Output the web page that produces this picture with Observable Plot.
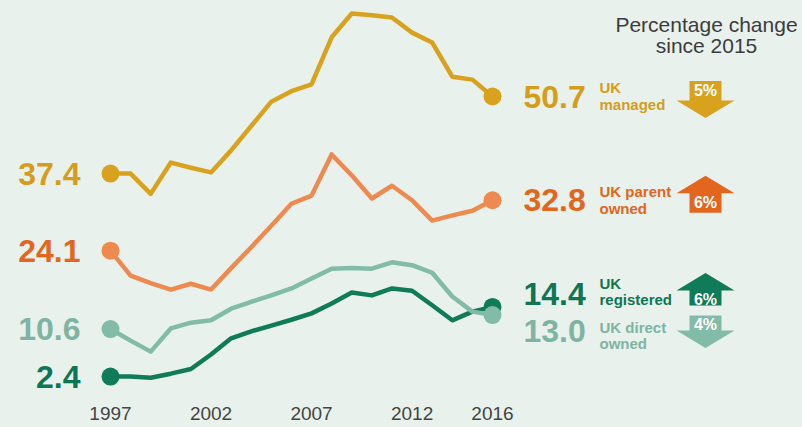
<!DOCTYPE html>
<html><head><meta charset="utf-8">
<script src="https://cdn.jsdelivr.net/npm/d3@7"></script>
<script src="https://cdn.jsdelivr.net/npm/@observablehq/plot@0.6"></script>
<style>html,body{margin:0;padding:0;background:#e8f1ec;} svg{display:block}</style>
</head><body><div id="chart"></div>
<script>
// ---- data ----
const years = [1997,1998,1999,2000,2001,2002,2003,2004,2005,2006,2007,2008,2009,2010,2011,2012,2013,2014,2015,2016];
const seriesNames = ["UK managed", "UK parent owned", "UK registered", "UK direct owned"];
const seriesLabels = ["UK\nmanaged", "UK parent\nowned", "UK\nregistered", "UK direct\nowned"];
const ukManaged     = [37.4,37.4,33.9,39.3,38.4,37.6,41.4,45.6,49.8,51.6,52.8,60.9,65.0,64.7,64.3,61.7,60.0,54.1,53.6,50.7];
const ukParentOwned = [24.1,19.8,18.5,17.4,18.4,17.4,21.1,24.7,28.4,32.2,33.6,40.7,37.1,33.1,35.3,32.8,29.3,30.2,31.0,32.8];
const ukRegistered  = [2.4,2.4,2.2,2.9,3.7,6.2,9.0,10.2,11.2,12.2,13.3,15.0,16.9,16.4,17.6,17.2,14.7,12.1,13.6,14.4];
const ukDirectOwned = [10.6,8.6,6.7,10.7,11.7,12.1,14.1,15.3,16.4,17.6,19.3,21.0,21.1,21.0,22.1,21.6,20.3,16.2,13.6,13.0];
const changeSince2015 = [-5, 6, 6, -4];
const tickYears = [1997, 2002, 2007, 2012, 2016];
const headerText = "Percentage change\nsince 2015";

// ---- styles ----
const styles = [
  {line: "#d9a21e", text: "#d49d1c", arrow: "#d9a21e", valueDy: 1,   nameDy: 0,    arrowDy: 4,    pctDy: -6,   rectH: 19.5},
  {line: "#ee8a4f", text: "#e2661e", arrow: "#e2661e", valueDy: 0,   nameDy: 0,    arrowDy: -7,   pctDy: 3,    rectH: 19.5},
  {line: "#0f7b58", text: "#0e7654", arrow: "#0f7b58", valueDy: -12.5, nameDy: -15.5, arrowDy: -16.5, pctDy: -7.5, rectH: 15},
  {line: "#82bba8", text: "#7fb4a2", arrow: "#82bba8", valueDy: 16.5, nameDy: 20.5, arrowDy: 15.5, pctDy: 9.5, rectH: 15}
];

function arrowSymbol(up, rectH) {
  const s = up ? 1 : -1, headH = 17.5, hw = 29, rw = 16;
  return {draw(ctx) {
    ctx.moveTo(0, -s * headH);
    ctx.lineTo(hw, 0);
    ctx.lineTo(rw, 0);
    ctx.lineTo(rw, s * rectH);
    ctx.lineTo(-rw, s * rectH);
    ctx.lineTo(-rw, 0);
    ctx.lineTo(-hw, 0);
    ctx.closePath();
  }};
}

const valuesBySeries = [ukManaged, ukParentOwned, ukRegistered, ukDirectOwned];
const marks = [];
valuesBySeries.forEach((vals, i) => {
  const st = styles[i];
  const rows = years.map((year, j) => ({series: seriesNames[i], year, value: vals[j]}));
  const first = rows[0], last = rows[rows.length - 1];
  const ch = changeSince2015[i];
  marks.push(
    Plot.line(rows, {x: "year", y: "value", stroke: st.line, strokeWidth: 4.5, strokeLinejoin: "round", strokeLinecap: "round"}),
    Plot.dot([first, last], {x: "year", y: "value", r: 9, fill: st.line}),
    Plot.text([first], {x: "year", y: "value", text: d => d.value.toFixed(1), dx: -30, dy: 1, textAnchor: "end",
      fontSize: 32, fontWeight: "bold", fill: st.text}),
    Plot.text([last], {x: "year", y: "value", text: d => d.value.toFixed(1), dx: 31, dy: st.valueDy, textAnchor: "start",
      fontSize: 32, fontWeight: "bold", fill: st.text}),
    Plot.text([last], {x: "year", y: "value", text: () => seriesLabels[i], dx: 107, dy: st.nameDy, textAnchor: "start",
      lineAnchor: "middle", lineHeight: 1.1, fontSize: 15, fontWeight: "bold", fill: st.text}),
    Plot.dot([last], {x: "year", y: "value", r: 10, symbol: arrowSymbol(ch > 0, st.rectH), fill: st.arrow, dx: 213, dy: st.arrowDy}),
    Plot.text([last], {x: "year", y: "value", text: () => Math.abs(ch) + "%", dx: 213, dy: st.pctDy,
      fontSize: 16, fontWeight: "bold", fill: "#ffffff"})
  );
});

marks.push(
  Plot.axisX({ticks: tickYears, tickFormat: d => String(d), tickSize: 0, tickPadding: 16, fontSize: 19, fill: "#444", label: null}),
  Plot.text([headerText], {frameAnchor: "top-right", dx: 214, dy: 3, textAnchor: "middle", lineAnchor: "top",
    fontSize: 21, lineHeight: 1.02, fill: "#3c3c3c"})
);

const chart = Plot.plot({
  width: 802, height: 427,
  marginLeft: 110, marginRight: 310, marginTop: 13, marginBottom: 37,
  x: {domain: [1997, 2016]},
  y: {domain: [0, 65], axis: null},
  style: {background: "#e8f1ec", fontFamily: "'Liberation Sans', Arial, sans-serif", overflow: "visible"},
  marks
});
document.getElementById("chart").appendChild(chart);
</script></body></html>
